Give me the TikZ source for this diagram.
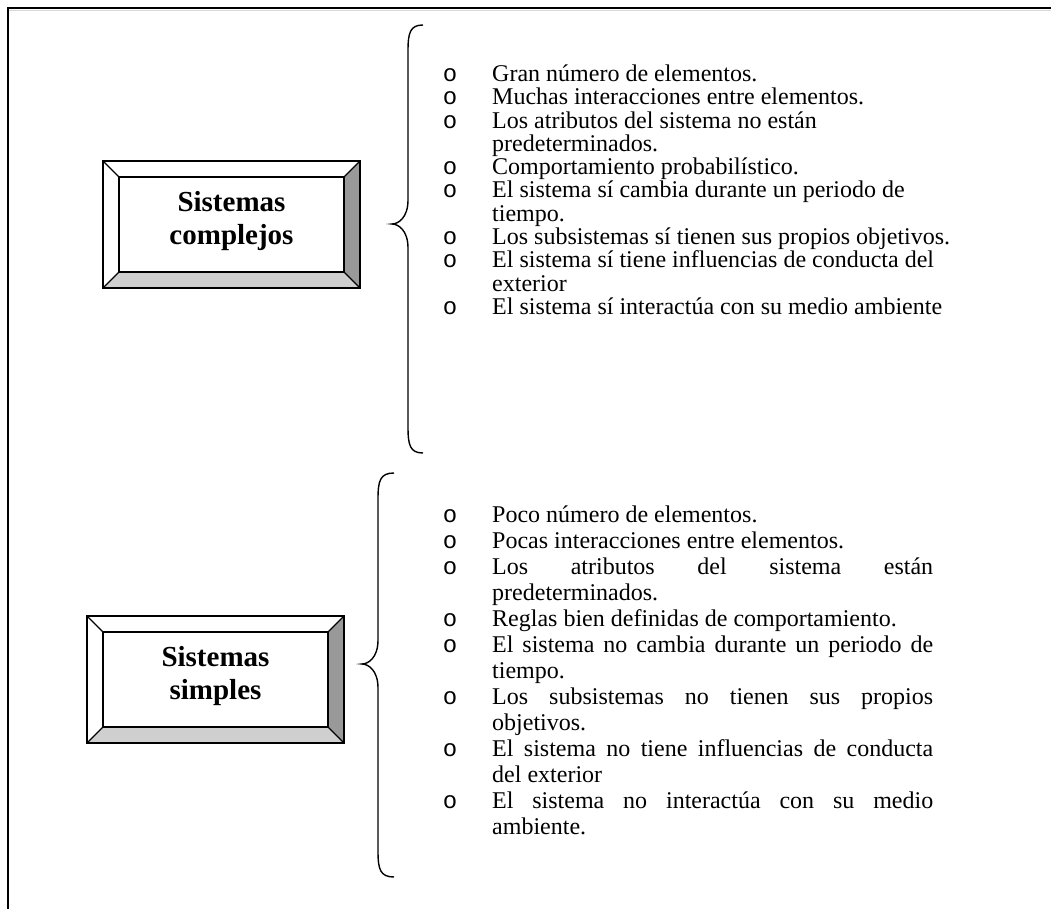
\documentclass[tikz,border=0pt]{standalone}
\usepackage{fontspec}
\newfontfamily\timesf{Liberation Serif}
\newfontfamily\monof{Liberation Mono}
\newcommand\itemfont{\timesf\fontsize{24}{24}\selectfont}
\newcommand\bulfont{\monof\fontsize{24}{24}\selectfont}
\newcommand\lblfont{\timesf\bfseries\fontsize{29}{33}\selectfont}
\newcommand\jl[1]{\makebox[441pt][s]{#1}}
\tikzset{
  item/.style={anchor=base west, inner sep=0pt, font=\itemfont},
  bul/.style={anchor=base, inner sep=0pt, font=\bulfont},
  lbl/.style={align=center, font=\lblfont, inner sep=0pt},
  bevline/.style={line width=1.3pt, line join=miter},
  bracestyle/.style={line width=1.4pt},
}
% x1,y1,x2,y2 (outer), d (bevel)
\newcommand\bevelbox[5]{%
  \fill[white] (#1,#2) rectangle (#3,#4);
  \fill[black!19] (#1,#4) -- (#3,#4) -- (#3-#5,#4-#5) -- (#1+#5,#4-#5) -- cycle;
  \fill[black!40] (#3,#2) -- (#3,#4) -- (#3-#5,#4-#5) -- (#3-#5,#2+#5) -- cycle;
  \draw[bevline] (#1,#2) rectangle (#3,#4);
  \draw[bevline] (#1+#5,#2+#5) rectangle (#3-#5,#4-#5);
  \draw[bevline] (#1,#2) -- (#1+#5,#2+#5);
  \draw[bevline] (#3,#2) -- (#3-#5,#2+#5);
  \draw[bevline] (#1,#4) -- (#1+#5,#4-#5);
  \draw[bevline] (#3,#4) -- (#3-#5,#4-#5);
}
% ex (end x), vx (vertical x), tx (tip x), yt, ym, yb
\newcommand\drawbrace[6]{%
  \draw[bracestyle] (#1,#4) .. controls (#2+2,#4) and (#2,#4+8) .. (#2,#4+26)
    -- (#2,#5-24) .. controls (#2,#5-6) and (#3+6,#5) .. (#3,#5)
    .. controls (#3+6,#5) and (#2,#5+6) .. (#2,#5+24)
    -- (#2,#6-26) .. controls (#2,#6-8) and (#2+2,#6) .. (#1,#6);
}
\begin{document}
\begin{tikzpicture}[x=1pt,y=-1pt]
\useasboundingbox (0,0) rectangle (1051,909);
\fill[white] (0,0) rectangle (1051,909);
% frame
\draw[black!15, line width=1pt] (9,10.5) -- (1051,10.5);
\draw[line width=2pt] (7.5,909) -- (7.5,8) -- (1051,8);

% boxes
\bevelbox{103}{161}{360}{288}{16}
\node[lbl] (bcomp) at (231.5,221) {Sistemas\\complejos};
\bevelbox{87}{616}{344}{743}{16}
\node[lbl] (bsimp) at (215.5,676) {Sistemas\\simples};

% braces
\drawbrace{423}{408}{392}{25}{224}{453}
\drawbrace{394}{378}{362}{473}{664}{877}

% list 1 (baselines 81.5 + 23.3k)
\node[bul] (a0b) at (450,81.5) {o};
\node[item] (a0) at (492,81.5) {Gran número de elementos.};
\node[bul] (a1b) at (450,104.8) {o};
\node[item] (a1) at (492,104.8) {Muchas interacciones entre elementos.};
\node[bul] (a2b) at (450,128.1) {o};
\node[item] (a2) at (492,128.1) {Los atributos del sistema no están};
\node[item] (a3) at (492,151.4) {predeterminados.};
\node[bul] (a4b) at (450,174.7) {o};
\node[item] (a4) at (492,174.7) {Comportamiento probabilístico.};
\node[bul] (a5b) at (450,198.0) {o};
\node[item] (a5) at (492,198.0) {El sistema sí cambia durante un periodo de};
\node[item] (a6) at (492,221.3) {tiempo.};
\node[bul] (a7b) at (450,244.6) {o};
\node[item] (a7) at (492,244.6) {Los subsistemas sí tienen sus propios objetivos.};
\node[bul] (a8b) at (450,267.9) {o};
\node[item] (a8) at (492,267.9) {El sistema sí tiene influencias de conducta del};
\node[item] (a9) at (492,291.2) {exterior};
\node[bul] (a10b) at (450,314.5) {o};
\node[item] (a10) at (492,314.5) {El sistema sí interactúa con su medio ambiente};

% list 2 (baselines 522 + 26k)
\node[bul] (b0b) at (450,522) {o};
\node[item] (b0) at (492,522) {Poco número de elementos.};
\node[bul] (b1b) at (450,548) {o};
\node[item] (b1) at (492,548) {Pocas interacciones entre elementos.};
\node[bul] (b2b) at (450,574) {o};
\node[item] (b2) at (492,574) {\jl{Los atributos del sistema están}};
\node[item] (b3) at (492,600) {predeterminados.};
\node[bul] (b4b) at (450,626) {o};
\node[item] (b4) at (492,626) {Reglas bien definidas de comportamiento.};
\node[bul] (b5b) at (450,652) {o};
\node[item] (b5) at (492,652) {\jl{El sistema no cambia durante un periodo de}};
\node[item] (b6) at (492,678) {tiempo.};
\node[bul] (b7b) at (450,704) {o};
\node[item] (b7) at (492,704) {\jl{Los subsistemas no tienen sus propios}};
\node[item] (b8) at (492,730) {objetivos.};
\node[bul] (b9b) at (450,756) {o};
\node[item] (b9) at (492,756) {\jl{El sistema no tiene influencias de conducta}};
\node[item] (b10) at (492,782) {del exterior};
\node[bul] (b11b) at (450,808) {o};
\node[item] (b11) at (492,808) {\jl{El sistema no interactúa con su medio}};
\node[item] (b12) at (492,834) {ambiente.};
\end{tikzpicture}
\end{document}
